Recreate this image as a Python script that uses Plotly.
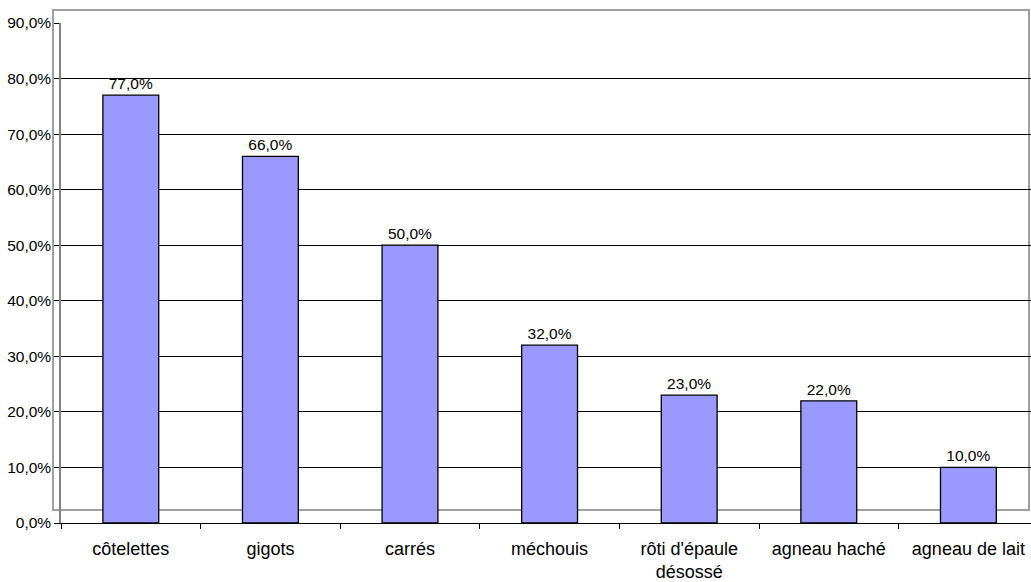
import plotly.graph_objects as go

# Share of respondents per lamb cut
categories = [
    "côtelettes",
    "gigots",
    "carrés",
    "méchouis",
    "rôti d'épaule<br>désossé",
    "agneau haché",
    "agneau de lait",
]
shares = [77.0, 66.0, 50.0, 32.0, 23.0, 22.0, 10.0]
y_ticks = [0, 10, 20, 30, 40, 50, 60, 70, 80, 90]
y_tick_text = [f"{v:.1f}%".replace(".", ",") for v in y_ticks]

W, H = 1031, 582
ML, MR, MT, MB = 61, 0, 23, 59
plot_w = W - ML - MR
plot_h = H - MT - MB
cat_px = 139.6  # pixel width of one category slot

fig = go.Figure(
    go.Bar(
        x=categories,
        y=shares,
        width=0.4,
        marker=dict(color="#9999FF", line=dict(color="#000000", width=1.3)),
        text=shares,
        texttemplate="%{y:.1f}%",
        textposition="outside",
        constraintext="none",
        cliponaxis=False,
        textfont=dict(family="Liberation Sans, Arial", size=15.5, color="#000000"),
    )
)


def px_x(px):
    return (px - ML) / plot_w


def px_y(py):
    return (H - MB - py) / plot_h


# grey back-wall frame of the chart
fig.add_shape(
    type="rect",
    xref="paper", yref="paper",
    x0=px_x(53), x1=px_x(1029),
    y0=px_y(510), y1=px_y(10),
    line=dict(color="#A0A0A0", width=2),
    fillcolor="rgba(0,0,0,0)",
    layer="below",
)

fig.update_layout(
    width=W,
    height=H,
    margin=dict(l=ML, r=MR, t=MT, b=MB, pad=0),
    paper_bgcolor="#FFFFFF",
    plot_bgcolor="rgba(0,0,0,0)",
    separators=",.",
    showlegend=False,
    font=dict(family="Liberation Sans, Arial", color="#000000"),
)

fig.update_xaxes(
    type="category",
    range=[-0.5, -0.5 + plot_w / cat_px],
    showline=True,
    linecolor="#000000",
    linewidth=1,
    ticks="outside",
    tickson="boundaries",
    ticklen=5,
    tickcolor="#000000",
    showgrid=False,
    ticklabelstandoff=9,
    tickfont=dict(size=18, color="#000000"),
)

fig.update_yaxes(
    range=[0, 90],
    tickmode="array",
    tickvals=y_ticks,
    ticktext=y_tick_text,
    showgrid=True,
    gridcolor="#000000",
    gridwidth=1,
    zeroline=False,
    showline=True,
    linecolor="#808080",
    linewidth=1.5,
    ticks="outside",
    ticklen=5,
    tickcolor="#000000",
    tickfont=dict(size=15.5, color="#000000"),
)

fig.write_html("out.html")
